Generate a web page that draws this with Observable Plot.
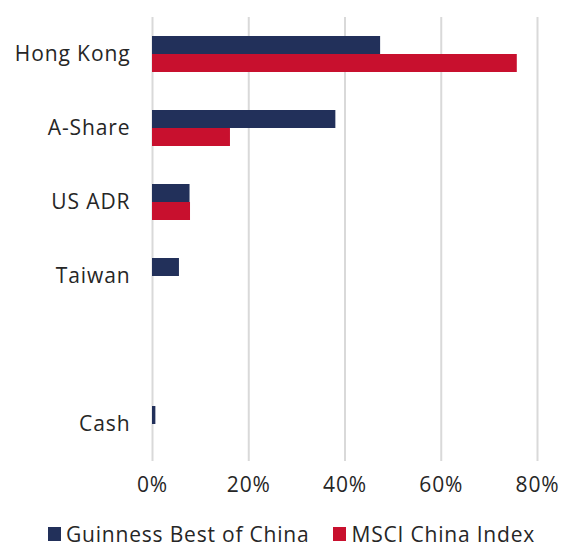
<!DOCTYPE html>
<html>
<head>
<meta charset="utf-8">
<script src="https://cdn.jsdelivr.net/npm/d3@7"></script>
<script src="https://cdn.jsdelivr.net/npm/@observablehq/plot@0.6"></script>
<style>
  html, body { margin: 0; padding: 0; background: white; overflow: hidden; }
  body { width: 563px; height: 550px; font-family: "Open Sans", sans-serif; color: #262626; }
  #chart svg { display: block; }
  .legend { display: flex; align-items: center; margin-left: 48px; margin-top: 13px; font-size: 21px; line-height: 22px; letter-spacing: 0.8px; white-space: nowrap; }
  .legend .item { display: flex; align-items: center; margin-right: 24px; flex-shrink: 0; }
  .legend .sw { width: 13px; height: 14px; margin-right: 5px; flex-shrink: 0; }
</style>
</head>
<body>
<div id="chart"></div>
<div class="legend" id="legend"></div>
<script>
const categories = ["Hong Kong", "A-Share", "US ADR", "Taiwan", " ", "Cash"];
const seriesNames = ["Guinness Best of China", "MSCI China Index"];
const guinness = [47.4, 38.1, 7.8, 5.6, 0, 0.7];
const msci = [75.8, 16.2, 7.9, 0, 0, 0];
const xTicks = [0, 20, 40, 60, 80];
const colors = ["#22305a", "#c8102e"];

const data = categories.flatMap((c, i) => [
  {cat: c, series: seriesNames[0], value: guinness[i]},
  {cat: c, series: seriesNames[1], value: msci[i]}
]);

const chart = Plot.plot({
  width: 563,
  height: 510,
  marginTop: 15,
  marginBottom: 48,
  marginLeft: 152,
  marginRight: 26,
  style: {fontFamily: "'Open Sans', sans-serif", fontSize: "21px", letterSpacing: "0.9px", color: "#262626", background: "white", overflow: "visible"},
  x: {domain: [0, 80], ticks: xTicks, tickFormat: d => d + "%", label: null, tickSize: 0, tickPadding: 16},
  fy: {domain: categories, padding: 0, label: null, tickSize: 0, tickPadding: 22, axis: "left"},
  y: {domain: seriesNames, paddingInner: 0, paddingOuter: 0.96, axis: null},
  color: {domain: seriesNames, range: colors},
  marks: [
    Plot.ruleX(xTicks, {stroke: "#d9d9d9", strokeWidth: 2}),
    Plot.barX(data, {x: "value", y: "series", fy: "cat", fill: "series", inset: 0})
  ]
});
document.getElementById("chart").appendChild(chart);

const legend = document.getElementById("legend");
seriesNames.forEach((s, i) => {
  const item = document.createElement("div");
  item.className = "item";
  const sw = document.createElement("span");
  sw.className = "sw";
  sw.style.background = colors[i];
  const t = document.createElement("span");
  t.textContent = s;
  item.appendChild(sw);
  item.appendChild(t);
  legend.appendChild(item);
});
</script>
</body>
</html>
